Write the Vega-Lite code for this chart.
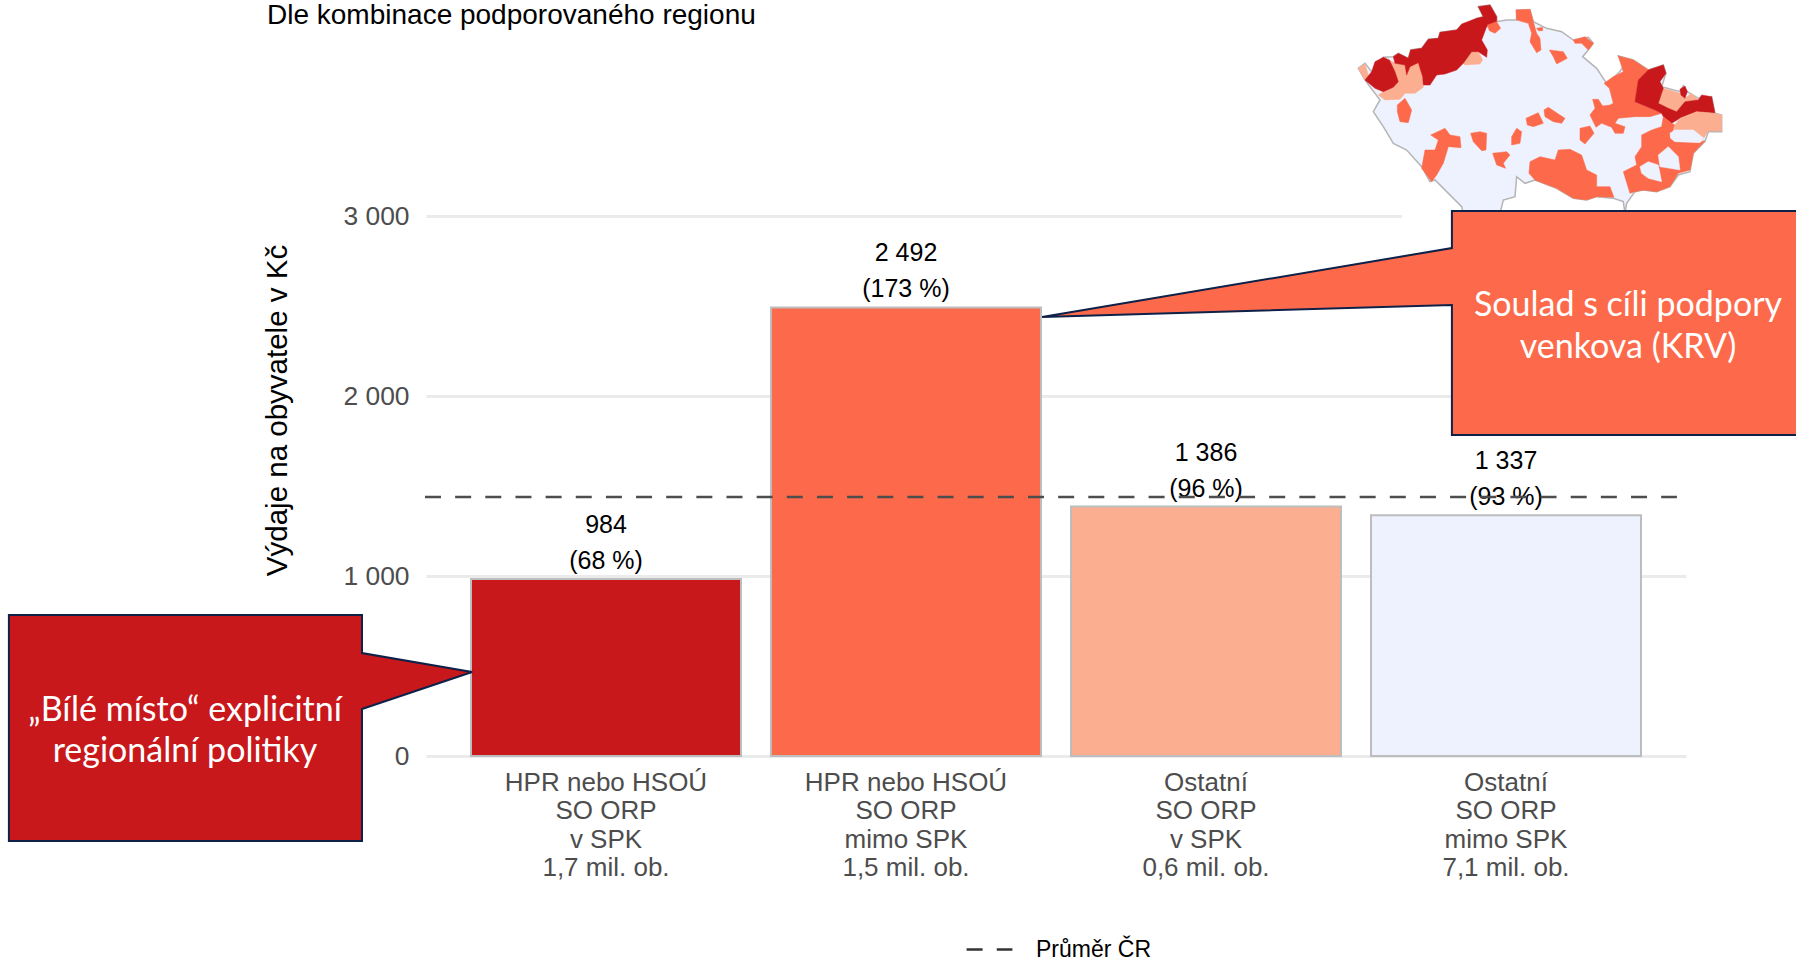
{
"$schema":"https://vega.github.io/schema/vega-lite/v6.json",
"width":1260,"height":540,
"autosize":"none",
"padding":{"left":425,"top":216,"right":111,"bottom":204},
"background":"white",
"config":{"view":{"stroke":null},"font":"Liberation Sans"},
"title":{"text":"Dle kombinace podporovaného regionu","anchor":"start","frame":"group","dx":-158,"offset":-28,"font":"Liberation Sans","fontSize":28,"fontWeight":"normal","color":"#000000"},
"projection":{"type":"identity","scale":0.3333,"translate":[915,-216]},
"datasets":{
"sloupce":[
{"kategorie":"HPR nebo HSOÚ|SO ORP|v SPK|1,7 mil. ob.","vydaje":984,"popisek":"984","podil":"(68 %)","skupina":"A"},
{"kategorie":"HPR nebo HSOÚ|SO ORP|mimo SPK|1,5 mil. ob.","vydaje":2492,"popisek":"2 492","podil":"(173 %)","skupina":"B"},
{"kategorie":"Ostatní|SO ORP|v SPK|0,6 mil. ob.","vydaje":1386,"popisek":"1 386","podil":"(96 %)","skupina":"C"},
{"kategorie":"Ostatní|SO ORP|mimo SPK|7,1 mil. ob.","vydaje":1337,"popisek":"1 337","podil":"(93 %)","skupina":"D"}
],
"mapa":[
{"type":"Feature","properties":{"skupina":"D"},"geometry":{"type":"Polygon","coordinates":[[[100,335],[120,300],[75,240],[55,205],[75,190],[95,215],[130,172],[160,170],[175,160],[205,175],[212,150],[245,145],[265,118],[295,115],[300,97],[350,90],[410,55],[430,50],[415,20],[450,15],[470,50],[470,65],[500,60],[530,60],[530,30],[570,30],[580,65],[620,85],[665,95],[700,120],[745,112],[760,130],[745,150],[728,170],[770,205],[800,250],[835,220],[850,200],[835,168],[880,180],[925,210],[970,195],[978,220],[965,260],[1020,275],[1030,258],[1042,275],[1075,295],[1115,290],[1125,340],[1145,345],[1145,395],[1105,395],[1095,425],[1060,460],[1050,515],[1015,525],[990,560],[950,575],[910,570],[885,575],[860,610],[855,640],[850,605],[820,595],[770,590],[740,600],[700,595],[650,565],[585,540],[555,550],[530,530],[525,590],[490,600],[480,640],[370,640],[365,620],[285,540],[270,545],[245,500],[200,450],[160,430],[130,380],[100,335]]]}}
],
"regiony":[
{"type":"Feature","properties":{"skupina":"C"},"geometry":{"type":"Polygon","coordinates":[[[55,205],[75,192],[88,235],[75,240],[55,205]]]}},
{"type":"Feature","properties":{"skupina":"C"},"geometry":{"type":"Polygon","coordinates":[[[148,180],[165,190],[195,195],[200,225],[210,200],[235,188],[248,230],[250,262],[225,280],[195,280],[180,298],[135,300],[115,285],[130,275],[160,262],[175,245],[165,215],[148,180]]]}},
{"type":"Feature","properties":{"skupina":"C"},"geometry":{"type":"Polygon","coordinates":[[[370,190],[395,155],[415,155],[428,180],[420,192],[375,195],[370,190]]]}},
{"type":"Feature","properties":{"skupina":"A"},"geometry":{"type":"Polygon","coordinates":[[[75,240],[95,215],[105,185],[130,172],[148,180],[165,215],[175,245],[160,262],[130,275],[105,265],[75,240]]]}},
{"type":"Feature","properties":{"skupina":"A"},"geometry":{"type":"Polygon","coordinates":[[[160,170],[175,160],[205,175],[212,150],[245,145],[265,118],[295,115],[300,97],[350,90],[365,72],[410,55],[430,50],[415,20],[450,15],[470,50],[470,65],[440,80],[425,120],[442,150],[440,172],[415,155],[395,155],[370,190],[350,210],[315,222],[290,225],[270,255],[250,255],[248,230],[235,188],[210,200],[200,225],[195,195],[165,190],[160,170]]]}},
{"type":"Feature","properties":{"skupina":"B"},"geometry":{"type":"Polygon","coordinates":[[[442,75],[470,65],[482,85],[465,100],[448,92],[442,75]]]}},
{"type":"Feature","properties":{"skupina":"B"},"geometry":{"type":"Polygon","coordinates":[[[528,30],[570,28],[580,65],[590,100],[600,115],[603,150],[590,158],[570,125],[575,100],[565,70],[530,60],[528,30]]]}},
{"type":"Feature","properties":{"skupina":"B"},"geometry":{"type":"Polygon","coordinates":[[[590,85],[608,82],[608,92],[595,92],[590,85]]]}},
{"type":"Feature","properties":{"skupina":"B"},"geometry":{"type":"Polygon","coordinates":[[[700,120],[735,110],[760,130],[745,150],[725,130],[705,130],[700,120]]]}},
{"type":"Feature","properties":{"skupina":"B"},"geometry":{"type":"Polygon","coordinates":[[[628,150],[670,155],[682,175],[650,192],[640,170],[628,150]]]}},
{"type":"Feature","properties":{"skupina":"B"},"geometry":{"type":"Polygon","coordinates":[[[172,315],[195,295],[215,330],[205,368],[180,365],[172,335],[172,315]]]}},
{"type":"Feature","properties":{"skupina":"B"},"geometry":{"type":"Polygon","coordinates":[[[835,168],[880,180],[925,210],[895,240],[885,305],[945,330],[965,340],[930,350],[885,350],[835,355],[825,370],[855,380],[850,400],[825,400],[815,382],[785,370],[768,382],[750,345],[765,325],[758,298],[775,298],[788,318],[810,315],[820,310],[808,265],[792,250],[820,230],[850,215],[835,168]]]}},
{"type":"Feature","properties":{"skupina":"C"},"geometry":{"type":"Polygon","coordinates":[[[970,265],[1020,280],[1035,295],[1055,280],[1075,300],[1035,305],[1010,335],[985,325],[955,310],[970,265]]]}},
{"type":"Feature","properties":{"skupina":"A"},"geometry":{"type":"Polygon","coordinates":[[[925,210],[970,195],[978,220],[960,245],[970,265],[955,310],[985,325],[1010,335],[1035,305],[1075,300],[1085,285],[1115,290],[1125,340],[1070,335],[1020,355],[995,370],[970,350],[965,340],[945,330],[885,305],[895,240],[925,210]]]}},
{"type":"Feature","properties":{"skupina":"A"},"geometry":{"type":"Polygon","coordinates":[[[1020,268],[1035,258],[1042,275],[1035,295],[1023,285],[1020,268]]]}},
{"type":"Feature","properties":{"skupina":"B"},"geometry":{"type":"Polygon","coordinates":[[[970,350],[995,370],[1005,375],[1000,390],[990,410],[1000,422],[1080,425],[1095,422],[1060,460],[1050,510],[1015,520],[990,560],[950,575],[910,570],[885,575],[870,580],[850,515],[890,495],[885,470],[905,440],[905,405],[935,390],[965,380],[970,350]]]}},
{"type":"Feature","properties":{"skupina":"C"},"geometry":{"type":"Polygon","coordinates":[[[1070,335],[1125,340],[1145,345],[1145,393],[1105,393],[1085,425],[1055,390],[1000,390],[1005,375],[1020,355],[1070,335]]]}},
{"type":"Feature","properties":{"skupina":"D"},"geometry":{"type":"Polygon","coordinates":[[[990,400],[1005,390],[1060,390],[1092,415],[1080,428],[1005,425],[992,415],[990,400]]]}},
{"type":"Feature","properties":{"skupina":"D"},"geometry":{"type":"Polygon","coordinates":[[[955,465],[985,440],[1015,470],[1020,510],[990,505],[960,500],[955,465]]]}},
{"type":"Feature","properties":{"skupina":"D"},"geometry":{"type":"Polygon","coordinates":[[[900,500],[925,485],[955,495],[960,520],[965,545],[925,535],[905,520],[900,500]]]}},
{"type":"Feature","properties":{"skupina":"B"},"geometry":{"type":"Polygon","coordinates":[[[558,355],[595,338],[610,370],[580,380],[562,375],[558,355]]]}},
{"type":"Feature","properties":{"skupina":"B"},"geometry":{"type":"Polygon","coordinates":[[[612,330],[625,322],[660,345],[675,355],[665,370],[640,365],[615,350],[612,330]]]}},
{"type":"Feature","properties":{"skupina":"B"},"geometry":{"type":"Polygon","coordinates":[[[720,385],[750,378],[762,400],[735,432],[720,420],[720,385]]]}},
{"type":"Feature","properties":{"skupina":"B"},"geometry":{"type":"Polygon","coordinates":[[[530,385],[545,395],[540,430],[515,435],[515,410],[530,385]]]}},
{"type":"Feature","properties":{"skupina":"B"},"geometry":{"type":"Polygon","coordinates":[[[392,400],[420,395],[440,400],[438,450],[425,452],[400,425],[392,400]]]}},
{"type":"Feature","properties":{"skupina":"B"},"geometry":{"type":"Polygon","coordinates":[[[458,460],[500,455],[510,465],[490,490],[497,505],[470,495],[458,460]]]}},
{"type":"Feature","properties":{"skupina":"B"},"geometry":{"type":"Polygon","coordinates":[[[272,405],[315,385],[330,405],[360,410],[363,443],[325,440],[310,490],[290,525],[275,545],[245,505],[255,450],[285,450],[295,420],[272,405]]]}},
{"type":"Feature","properties":{"skupina":"B"},"geometry":{"type":"Polygon","coordinates":[[[570,485],[600,470],[645,480],[655,450],[690,448],[725,465],[740,510],[770,525],[770,560],[810,560],[822,592],[770,590],[740,600],[700,595],[650,565],[585,540],[567,520],[570,485]]]}}
]
},
"resolve":{"scale":{"x":"independent","y":"independent","color":"independent"}},
"layer":[
{"layer":[
{"data":{"name":"sloupce"},"mark":{"type":"bar","stroke":"#bdbdbd","strokeWidth":2},
"encoding":{
"x":{"field":"kategorie","type":"nominal","sort":null,"scale":{"paddingInner":0.1,"paddingOuter":0.15,"range":[1,1261]},
"axis":{"title":null,"labelAngle":0,"labelExpr":"split(datum.value,'|')","labelFontSize":26,"labelColor":"#4d4d4d","labelLineHeight":28.6,"labelPadding":13,"labelLimit":400,"ticks":false,"domain":false,"labelFont":"Liberation Sans","grid":false,"labelBaseline":"top"}},
"y":{"field":"vydaje","type":"quantitative","scale":{"domain":[0,3000],"nice":false},
"axis":{"title":"Výdaje na obyvatele v Kč","titleFontSize":29.5,"titleFontWeight":"normal","titleColor":"#000000","titleX":-133,"titleY":194,"titleFont":"Liberation Sans","values":[0,1000,2000,3000],"labelExpr":"datum.value>=1000 ? floor(datum.value/1000)+' 000' : ''+datum.value","labelFontSize":26.4,"labelColor":"#4d4d4d","labelPadding":16,"ticks":false,"domain":false,"grid":true,"gridColor":"#ebebeb","gridWidth":3,"labelFont":"Liberation Sans"}},
"color":{"field":"skupina","type":"nominal","legend":null,"scale":{"domain":["A","B","C","D"],"range":["#c9181c","#fd6a4b","#fcae91","#eef2fe"]}}
}},
{"data":{"name":"sloupce"},"mark":{"type":"text","fontSize":25,"color":"#000000","dy":-54,"font":"Liberation Sans"},
"encoding":{"x":{"field":"kategorie","type":"nominal","sort":null,"scale":{"paddingInner":0.1,"paddingOuter":0.15,"range":[1,1261]}},"y":{"field":"vydaje","type":"quantitative","scale":{"domain":[0,3000],"nice":false}},"text":{"field":"popisek"}}},
{"data":{"name":"sloupce"},"mark":{"type":"text","fontSize":25,"color":"#000000","dy":-18,"font":"Liberation Sans"},
"encoding":{"x":{"field":"kategorie","type":"nominal","sort":null,"scale":{"paddingInner":0.1,"paddingOuter":0.15,"range":[1,1261]}},"y":{"field":"vydaje","type":"quantitative","scale":{"domain":[0,3000],"nice":false}},"text":{"field":"podil"}}}
]},
{"data":{"values":[{"od":3.657,"do":4.9,"dole":2950,"nahore":3050}]},"mark":{"type":"rect","fill":"#ffffff"},
"encoding":{"x":{"field":"od","type":"quantitative","scale":{"domain":[0.4,4.6],"nice":false,"zero":false},"axis":null},"x2":{"field":"do"},"y":{"field":"dole","type":"quantitative","scale":{"domain":[0,3000],"nice":false},"axis":null},"y2":{"field":"nahore"}}},
{"data":{"name":"mapa"},"mark":{"type":"geoshape","clip":false,"fill":"#eef2fe","stroke":"#b5b5b5","strokeWidth":1.5},"encoding":{}},
{"data":{"name":"regiony"},"mark":{"type":"geoshape","clip":false,"strokeWidth":0.5},
"encoding":{"color":{"field":"properties.skupina","type":"nominal","legend":null,"scale":{"domain":["A","B","C","D"],"range":["#c9181c","#fd6a4b","#fcae91","#eef2fe"]}},"stroke":{"field":"properties.skupina","type":"nominal","legend":null,"scale":{"domain":["A","B","C","D"],"range":["#c9181c","#fd6a4b","#fcae91","#eef2fe"]}}}},
{"data":{"values":[{"od":0.4,"do":4.573,"prumer":1439,"rada":"Průměr ČR"}]},"mark":{"type":"rule","strokeWidth":2.4,"color":"#4d4d4d"},
"encoding":{"x":{"field":"od","type":"quantitative","scale":{"domain":[0.4,4.6],"nice":false,"zero":false},"axis":null},"x2":{"field":"do"},"y":{"field":"prumer","type":"quantitative","scale":{"domain":[0,3000],"nice":false},"axis":null},
"strokeDash":{"field":"rada","type":"nominal","title":null,"scale":{"range":[[16,14.15]]},"legend":{"orient":"none","legendX":540,"legendY":709,"symbolType":"stroke","symbolSize":2100,"symbolStrokeWidth":2.4,"symbolStrokeColor":"#333333","labelFontSize":23,"labelColor":"#000000","labelFont":"Liberation Sans","labelOffset":22}}}},
{"data":{"values":[
{"x":-0.987,"dole":-472,"nahore":783},
{"x":0.19,"dole":-472,"nahore":783},
{"x":0.19,"dole":261,"nahore":572},
{"x":0.557,"dole":467,"nahore":467}
]},"mark":{"type":"area","fill":"#c9181c","stroke":"#0d2149","strokeWidth":2,"interpolate":"linear"},
"encoding":{"x":{"field":"x","type":"quantitative","scale":{"domain":[0.4,4.6],"nice":false,"zero":false},"axis":null},"y":{"field":"dole","type":"quantitative","scale":{"domain":[0,3000],"nice":false},"axis":null},"y2":{"field":"nahore"}}},
{"data":{"values":[
{"x":2.457,"dole":2439,"nahore":2439},
{"x":3.823,"dole":2506,"nahore":2822},
{"x":3.823,"dole":1783,"nahore":3028},
{"x":5.0,"dole":1783,"nahore":3028}
]},"mark":{"type":"area","fill":"#fd6a4b","stroke":"#0d2149","strokeWidth":2,"interpolate":"linear"},
"encoding":{"x":{"field":"x","type":"quantitative","scale":{"domain":[0.4,4.6],"nice":false,"zero":false},"axis":null},"y":{"field":"dole","type":"quantitative","scale":{"domain":[0,3000],"nice":false},"axis":null},"y2":{"field":"nahore"}}},
{"data":{"values":[
{"x":-0.4,"y":250,"text":"„Bílé místo“ explicitní"},
{"x":-0.4,"y":22,"text":"regionální politiky"},
{"x":4.41,"y":2498,"text":"Soulad s cíli podpory"},
{"x":4.41,"y":2264,"text":"venkova (KRV)"}
]},"mark":{"type":"text","color":"#ffffff","font":"Lato","fontSize":34,"align":"center","baseline":"middle"},
"encoding":{"x":{"field":"x","type":"quantitative","scale":{"domain":[0.4,4.6],"nice":false,"zero":false},"axis":null},"y":{"field":"y","type":"quantitative","scale":{"domain":[0,3000],"nice":false},"axis":null},"text":{"field":"text"}}}
]
}
